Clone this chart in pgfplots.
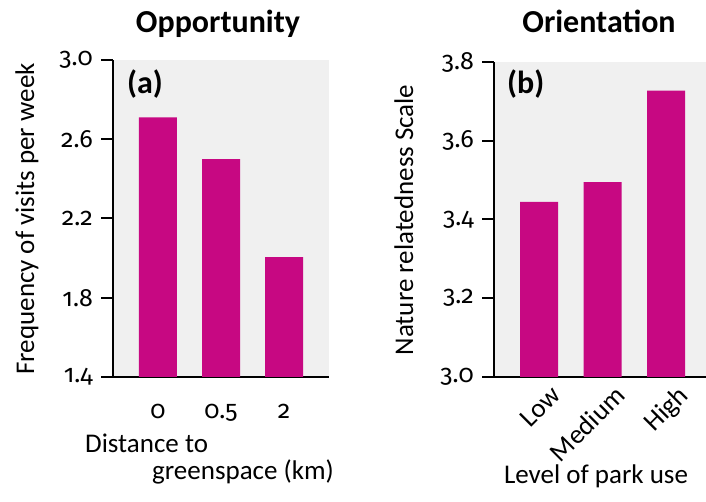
\documentclass[border=0pt]{standalone}
\usepackage{pgfplots}
\pgfplotsset{compat=1.18}
\usepackage{fontspec}
\setmainfont{Carlito}
\newfontfamily\numfont{Fira Sans}[Numbers=OldStyle]
\definecolor{barc}{RGB}{199,8,130}
\definecolor{bg}{RGB}{240,240,240}
\newcommand{\lf}{\fontsize{27}{32}\selectfont}
\newcommand{\nf}{\fontsize{25}{30}\selectfont\numfont}
\begin{document}
\begin{tikzpicture}[x=1pt,y=1pt]
\useasboundingbox (0,0) rectangle (706,502);
\pgfplotsset{
  myax/.style={
    scale only axis,
    anchor=south west,
    axis x line*=bottom,
    axis y line*=left,
    axis line style={line width=2.5pt,-,black},
    axis background/.style={fill=bg},
    ybar, bar width=38pt,
    xtick={0,1,2},
    xtick style={draw=none},
    ytick style={line width=2pt,black},
    major tick length=12pt,
    tick align=outside,
    ticklabel style={font=\lf},
    /pgf/number format/assume math mode=true,
    yticklabel style={font=\nf,/pgf/number format/fixed,/pgf/number format/fixed zerofill,/pgf/number format/precision=1},
    yticklabel style={inner sep=0pt, xshift=-8pt},
    clip=true,
  }
}
\begin{axis}[myax, at={(113pt,125pt)}, width=216pt, height=317pt,
  xmin=-0.714, xmax=2.714, ymin=1.4, ymax=3.0,
  ytick={1.4,1.8,2.2,2.6,3.0},
  xticklabels={0,0.5,2},
  xticklabel style={font=\nf, anchor=base, inner sep=0pt, yshift=-30pt}]
\addplot[fill=barc, draw=none] coordinates {(0,2.71) (1,2.50) (2,2.005)};
\end{axis}
\begin{axis}[myax, at={(494pt,125pt)}, width=212pt, height=315pt,
  xmin=-0.709, xmax=2.63, ymin=3.0, ymax=3.8,
  ytick={3.0,3.2,3.4,3.6,3.8},
  xticklabels={Low,Medium,High},
  xticklabel style={rotate=45, anchor=north east, inner sep=0pt, xshift=11pt, yshift=-4pt}]
\addplot[fill=barc, draw=none] coordinates {(0,3.445) (1,3.495) (2,3.727)};
\end{axis}
% titles
\node[anchor=base, inner sep=0pt, font=\fontsize{32}{38}\selectfont\bfseries] at (218,469) {Opportunity};
\node[anchor=base, inner sep=0pt, font=\fontsize{32}{38}\selectfont\bfseries] at (599,469) {Orientation};
% panel letters
\node[anchor=base west, inner sep=0pt, font=\fontsize{32}{38}\selectfont\bfseries] at (127,408) {(a)};
\node[anchor=base west, inner sep=0pt, font=\fontsize{32}{38}\selectfont\bfseries] at (507,408) {(b)};
% y labels
\node[rotate=90, anchor=base, inner sep=0pt, font=\lf] at (34,283) {Frequency of visits per week};
\node[rotate=90, anchor=base, inner sep=0pt, font=\lf] at (413,282) {Nature relatedness Scale};
% x labels
\node[anchor=base west, inner sep=0pt, font=\lf] at (85,49) {Distance to};
\node[anchor=base west, inner sep=0pt, font=\lf] at (152,22) {greenspace (km)};
\node[anchor=base, inner sep=0pt, font=\lf] at (596,18) {Level of park use};
\end{tikzpicture}
\end{document}
